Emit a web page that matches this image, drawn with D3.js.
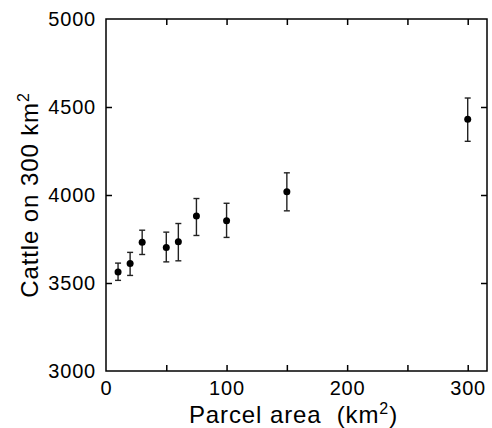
<!DOCTYPE html>
<html>
<head>
<meta charset="utf-8">
<script src="https://cdn.jsdelivr.net/npm/d3@7"></script>
<style>
  body { margin: 0; background: #fff; }
  text { font-family: "Liberation Sans", Arial, sans-serif; fill: #000; }
</style>
</head>
<body>
<div id="chart"></div>
<script>
const area = [10, 20, 30, 50, 60, 75, 100, 150, 300];
const cattle = [3563, 3611, 3732, 3702, 3734, 3880, 3853, 4018, 4430];
const errLow = [3515, 3543, 3662, 3620, 3626, 3770, 3759, 3910, 4305];
const errHigh = [3613, 3674, 3800, 3789, 3838, 3980, 3953, 4126, 4551];
const xTickLabels = [0, 100, 200, 300];
const xMinorTicks = [50, 150, 250];
const yTickLabels = [3000, 3500, 4000, 4500, 5000];

const w = 492, h = 428;
const margin = { top: 19, right: 5, bottom: 57, left: 106 };

const x = d3.scaleLinear().domain([0, 316]).range([margin.left, w - margin.right]);
const y = d3.scaleLinear().domain([3000, 5000]).range([h - margin.bottom, margin.top]);

const svg = d3.select("#chart")
  .append("svg")
  .attr("width", w)
  .attr("height", h);

const tickLen = 6;
const allXTicks = xTickLabels.concat(xMinorTicks).filter(d => d > 0);

// inward ticks on all four sides
svg.append("g")
  .attr("transform", `translate(0,${y(3000)})`)
  .call(d3.axisTop(x).tickValues(allXTicks).tickSize(tickLen).tickFormat(""))
  .call(g => g.select(".domain").remove());
svg.append("g")
  .attr("transform", `translate(0,${y(5000)})`)
  .call(d3.axisBottom(x).tickValues(allXTicks).tickSize(tickLen).tickFormat(""))
  .call(g => g.select(".domain").remove());
svg.append("g")
  .attr("transform", `translate(${x(0)},0)`)
  .call(d3.axisRight(y).tickValues([3500, 4000, 4500]).tickSize(tickLen).tickFormat(""))
  .call(g => g.select(".domain").remove());
svg.append("g")
  .attr("transform", `translate(${x(316)},0)`)
  .call(d3.axisLeft(y).tickValues([3500, 4000, 4500]).tickSize(tickLen).tickFormat(""))
  .call(g => g.select(".domain").remove());
svg.selectAll(".tick line").attr("stroke", "#000").attr("stroke-width", 1.5);

// frame
svg.append("rect")
  .attr("x", x(0))
  .attr("y", y(5000))
  .attr("width", x(316) - x(0))
  .attr("height", y(3000) - y(5000))
  .attr("fill", "none")
  .attr("stroke", "#000")
  .attr("stroke-width", 1.5);

// tick labels
svg.append("g")
  .selectAll("text")
  .data(xTickLabels)
  .join("text")
  .attr("x", d => x(d) + 0.4)
  .attr("y", y(3000) + 24)
  .attr("text-anchor", "middle")
  .attr("font-size", 20)
  .attr("letter-spacing", 0.8)
  .text(d => d);

svg.append("g")
  .selectAll("text")
  .data(yTickLabels)
  .join("text")
  .attr("x", x(0) - 10)
  .attr("y", d => y(d))
  .attr("dy", "0.36em")
  .attr("text-anchor", "end")
  .attr("font-size", 20)
  .attr("letter-spacing", 0.8)
  .text(d => d);

// axis titles
const xt = svg.append("text")
  .attr("x", (x(0) + x(316)) / 2 - 3)
  .attr("y", 423)
  .attr("text-anchor", "middle")
  .attr("font-size", 24)
  .attr("letter-spacing", 0.9)
  .attr("xml:space", "preserve");
xt.append("tspan").text("Parcel area  (km");
xt.append("tspan").attr("font-size", 16).attr("dy", -9).text("2");
xt.append("tspan").attr("dy", 9).text(")");

const yt = svg.append("text")
  .attr("transform", `translate(38,${(y(3000) + y(5000)) / 2}) rotate(-90)`)
  .attr("text-anchor", "middle")
  .attr("font-size", 24)
  .attr("letter-spacing", 0.9);
yt.append("tspan").text("Cattle on 300 km");
yt.append("tspan").attr("font-size", 16).attr("dy", -9).text("2");

// error bars
const eb = svg.append("g")
  .attr("stroke", "#222")
  .attr("stroke-width", 1.4);
area.forEach((a, i) => {
  eb.append("line")
    .attr("x1", x(a)).attr("x2", x(a))
    .attr("y1", y(errLow[i])).attr("y2", y(errHigh[i]));
  [errLow[i], errHigh[i]].forEach(v => {
    eb.append("line")
      .attr("x1", x(a) - 3).attr("x2", x(a) + 3)
      .attr("y1", y(v)).attr("y2", y(v));
  });
});

// points
svg.append("g")
  .selectAll("circle")
  .data(area)
  .join("circle")
  .attr("cx", d => x(d))
  .attr("cy", (d, i) => y(cattle[i]))
  .attr("r", 3.5)
  .attr("fill", "#000");
</script>
</body>
</html>
